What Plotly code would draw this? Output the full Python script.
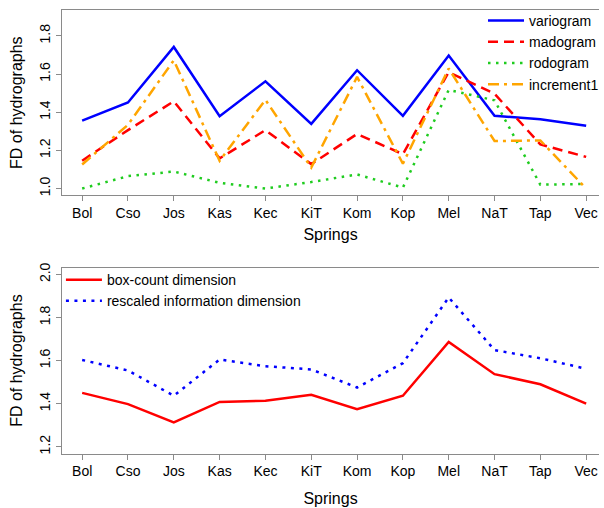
import plotly.graph_objects as go

springs = ["Bol", "Cso", "Jos", "Kas", "Kec", "KiT", "Kom", "Kop", "Mel", "NaT", "Tap", "Vec"]

variogram = [1.356, 1.451, 1.742, 1.379, 1.562, 1.339, 1.620, 1.381, 1.697, 1.381, 1.363, 1.329]
madogram = [1.146, 1.306, 1.457, 1.158, 1.306, 1.128, 1.286, 1.180, 1.610, 1.497, 1.231, 1.166]
rodogram = [1.000, 1.065, 1.089, 1.030, 1.000, 1.034, 1.074, 1.005, 1.517, 1.462, 1.020, 1.024]
increment1 = [1.126, 1.334, 1.672, 1.145, 1.465, 1.110, 1.585, 1.130, 1.629, 1.249, 1.252, 1.000]

box_count = [1.450, 1.398, 1.313, 1.408, 1.414, 1.441, 1.374, 1.437, 1.687, 1.537, 1.490, 1.400]
rescaled_info = [1.603, 1.554, 1.437, 1.605, 1.574, 1.559, 1.475, 1.588, 1.893, 1.649, 1.611, 1.562]

top_ticks = [1.0, 1.2, 1.4, 1.6, 1.8]
bottom_ticks = [1.2, 1.4, 1.6, 1.8, 2.0]

FONT = "Liberation Sans, Arial, sans-serif"
AXC = "#8a8a8a"
LW = 2.5

fig = go.Figure()

top_series = [
    ("variogram", variogram, "#0000ff", "solid"),
    ("madogram", madogram, "#ff0000", "10px,6px"),
    ("rodogram", rodogram, "#1fcc1f", "2.5px,5.5px"),
    ("increment1", increment1, "#ffa500", "11px,5px,3px,5px"),
]
for name, vals, col, dash in top_series:
    fig.add_trace(go.Scatter(x=springs, y=vals, mode="lines", name=name,
                             line=dict(color=col, width=LW, dash=dash),
                             xaxis="x", yaxis="y", legend="legend"))

bottom_series = [
    ("box-count dimension", box_count, "#ff0000", "solid"),
    ("rescaled information dimension", rescaled_info, "#0000ff", "3px,5.5px"),
]
for name, vals, col, dash in bottom_series:
    fig.add_trace(go.Scatter(x=springs, y=vals, mode="lines", name=name,
                             line=dict(color=col, width=LW, dash=dash),
                             xaxis="x2", yaxis="y2", legend="legend2"))

def xaxis_style(standoff):
    return dict(type="category", range=[-0.44, 11.28], showline=True, linecolor=AXC,
                linewidth=1, mirror=True, ticks="outside", ticklen=5, tickcolor=AXC,
                showgrid=False, zeroline=False,
                tickfont=dict(family=FONT, size=14, color="#000"),
                title=dict(text="Springs", font=dict(family=FONT, size=16, color="#000"),
                           standoff=standoff))

ycommon = dict(showline=True, linecolor=AXC, linewidth=1, mirror=False, ticks="outside",
               ticklen=5, tickcolor=AXC, showgrid=False, zeroline=False, tickangle=-90,
               tickformat=".1f",
               tickfont=dict(family=FONT, size=14, color="#000"),
               title=dict(text="FD of hydrographs", font=dict(family=FONT, size=16, color="#000"), standoff=10))

legend_font = dict(family=FONT, size=14, color="#000")

fig.update_layout(
    width=604, height=508,
    margin=dict(l=61.5, r=0, t=0, b=0),
    paper_bgcolor="white", plot_bgcolor="white",
    xaxis=dict(xaxis_style(8), domain=[0, 1], anchor="y"),
    yaxis=dict(ycommon, domain=[0.6207, 0.9902], range=[0.964, 1.936], tickvals=top_ticks, anchor="x"),
    xaxis2=dict(xaxis_style(14), domain=[0, 1], anchor="y2"),
    yaxis2=dict(ycommon, domain=[0.1063, 0.4770], range=[1.168, 2.032], tickvals=bottom_ticks, anchor="x2"),
    legend=dict(x=0.784, y=1.0, xanchor="left", yanchor="top", bgcolor="rgba(0,0,0,0)",
                font=legend_font, borderwidth=0, itemwidth=36),
    legend2=dict(x=-0.002, y=0.484, xanchor="left", yanchor="top", bgcolor="rgba(0,0,0,0)",
                 font=legend_font, borderwidth=0, itemwidth=36),
    showlegend=True,
)

fig.write_html("out.html")
